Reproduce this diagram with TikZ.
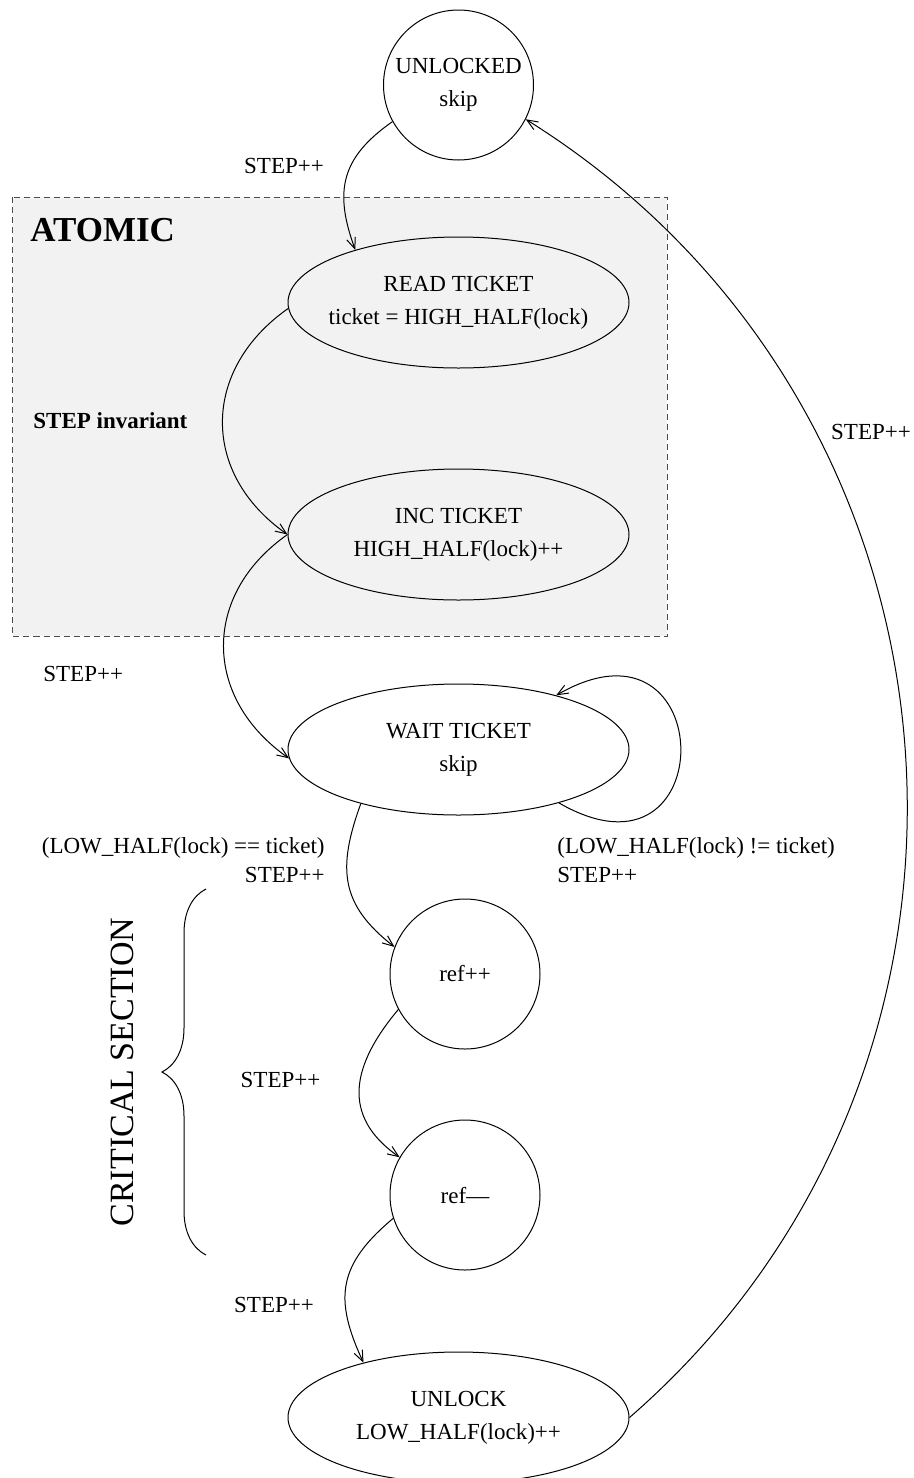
\documentclass[tikz,border=0pt]{standalone}
\usepackage{fontspec}
\setmainfont{Liberation Serif}
\usetikzlibrary{positioning,shapes.geometric,arrows.meta,decorations.pathreplacing}

\begin{document}
\begin{tikzpicture}[x=0.5pt, y=-0.5pt,
    >={Straight Barb[length=5.5pt,width=4.5pt]},
    every node/.style={font=\fontsize{11.5}{16.5}\selectfont},
    state/.style={draw, line width=0.5pt, ellipse, minimum width=170.5pt,
      minimum height=65.5pt, inner ysep=0pt, inner xsep=-25pt, align=center},
    round state/.style={draw, line width=0.5pt, circle, minimum size=75pt,
      inner sep=0pt, align=center},
    trans/.style={->, line width=0.5pt},
    lbl/.style={inner sep=0pt}]
  \useasboundingbox (0,0) rectangle (914,1478);
  % atomic block
  \draw[dash pattern=on 3pt off 2pt, black!70, fill=black!5, line width=0.5pt]
    (12.5,197) rectangle (667,636);
  \node[lbl, anchor=base west, font=\fontsize{17.5}{20}\selectfont\bfseries] (atomic) at (30,241) {ATOMIC};
  \node[lbl, anchor=base west, font=\fontsize{11.5}{14}\selectfont\bfseries] (inv) at (33,428) {STEP invariant};

  % states
  \node[round state] (unlocked) at (458.5,85) {UNLOCKED\\skip};
  \node[state, below=38pt of unlocked] (read) {READ TICKET\\ticket = HIGH\_HALF(lock)};
  \node[state, below=50pt of read] (inc) {INC TICKET\\HIGH\_HALF(lock)++};
  \node[state, below=41.5pt of inc] (wait) {WAIT TICKET\\skip};
  \node[round state, below=41.5pt of wait, xshift=3.25pt] (refinc) {ref++};
  \node[round state, below=35pt of refinc] (refdec) {ref\textendash\textendash};
  \node[state, below=40.5pt of refdec, xshift=-3.25pt] (unlock) {UNLOCK\\LOW\_HALF(lock)++};

  % transitions
  \draw[trans] (unlocked.209) to[out=215, in=110, looseness=1.2] (read.153);
  \draw[trans] (read.182) to[out=215, in=145, looseness=1.2] (inc.west);
  \draw[trans] (inc.west) to[out=215, in=145, looseness=1.2] (wait.183);
  \draw[trans] (wait.332) to[out=-30, in=30, looseness=4.5] (wait.29);
  \draw[trans] (wait.209) to[out=250, in=142, looseness=1.2] (refinc.159);
  \draw[trans] (refinc.208) to[out=230, in=145, looseness=1.25] (refdec.150);
  \draw[trans] (refdec.198) to[out=220, in=115, looseness=1.24] (unlock.150);
  \draw[trans] (unlock.east) to[out=41, in=328, looseness=1.07] (unlocked.333);

  % labels
  \node[lbl, anchor=base] (lblread) at (284,173) {STEP++};
  \node[lbl, anchor=base west] (lblwait) at (43,681) {STEP++};
  \node[lbl, anchor=base east] (eqcond) at (325,853) {(LOW\_HALF(lock) == ticket)};
  \node[lbl, anchor=base east] (eqstep) at (325,882) {STEP++};
  \node[lbl, anchor=base west] (necond) at (557,853) {(LOW\_HALF(lock) != ticket)};
  \node[lbl, anchor=base west] (nestep) at (557,882) {STEP++};
  \node[lbl, anchor=base] (lbldec) at (280.5,1087) {STEP++};
  \node[lbl, anchor=base] (lblunlock) at (274,1312) {STEP++};
  \node[lbl, anchor=base] (lblback) at (871,439) {STEP++};

  % critical section
  \coordinate (csbot) at (206,1255);
  \coordinate (cstop) at (206,889);
  \draw[decorate, decoration={brace, amplitude=22pt}, line width=0.5pt] (csbot) -- (cstop);
  \node[lbl, anchor=base, rotate=90, font=\fontsize{17}{20}\selectfont] (crit) at (133,1072) {CRITICAL SECTION};
\end{tikzpicture}
\end{document}
